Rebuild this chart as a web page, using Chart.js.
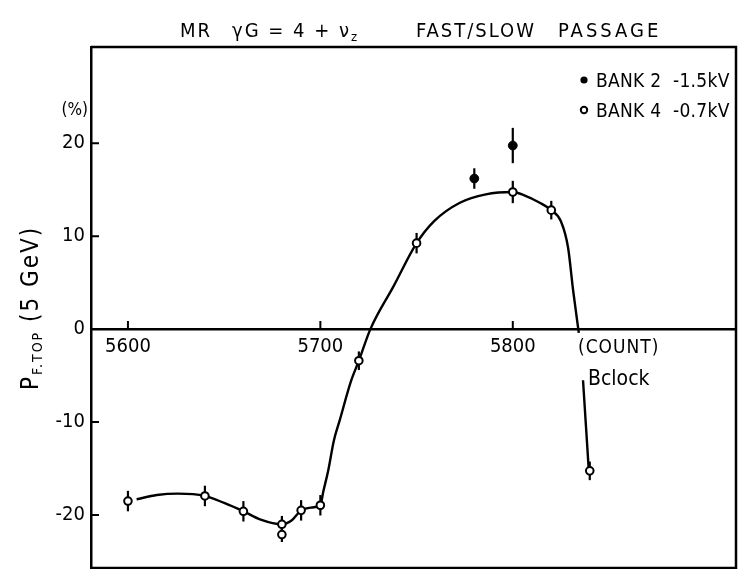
<!DOCTYPE html>
<html>
<head>
<meta charset="utf-8">
<script src="https://cdn.jsdelivr.net/npm/chart.js@4.4.1/dist/chart.umd.min.js"></script>
<style>
  html, body { margin: 0; padding: 0; background: #fff; overflow: hidden; }
  #wrap { width: 742px; height: 574px; position: relative; }
</style>
</head>
<body>
<div id="wrap"><canvas id="chart"></canvas></div>
<script>
// MR polarization vs B clock count, fast/slow passage

const FONT = '"DejaVu Sans Condensed", "Liberation Sans Narrow", "DejaVu Sans", sans-serif';

const xTicks = [5600, 5700, 5800];
const yTicks = [-20, -10, 0, 10, 20];

// BANK 4 -0.7kV (open circles)
const bank4X   = [5600, 5640, 5660, 5680, 5680, 5690, 5700, 5720, 5750, 5800, 5820, 5840];
const bank4Y   = [-18.5, -17.95, -19.6, -21.0, -22.1, -19.5, -18.95, -3.4, 9.25, 14.75, 12.8, -15.25];
const bank4Err = [1.1, 1.1, 1.1, 0.9, 0.8, 1.1, 1.1, 1.0, 1.1, 1.2, 1.0, 1.0];

// BANK 2 -1.5kV (filled)
const bank2X   = [5780, 5800];
const bank2Y   = [16.2, 19.75];
const bank2Err = [1.1, 1.9];

// hand drawn guide curve, null = break at the axis label
const curveX = [5604.5, 5615, 5626, 5640, 5650, 5660, 5669, 5680, 5685, 5690, 5695, 5700,
                5701.5, 5704, 5707, 5710, 5716, 5720, 5726, 5738, 5750, 5759, 5772.5, 5786,
                5800, 5806, 5814, 5820, 5825, 5828.7, 5831.4, 5834.3, 5835.5, 5836.5, 5839.5];
const curveY = [-18.3, -17.85, -17.7, -17.95, -18.7, -19.6, -20.5, -21.0, -20.6, -19.5, -19.2, -18.95,
                -17.5, -15.3, -12.0, -9.85, -5.55, -3.4, 0, 4.6, 9.25, 11.6, 13.6, 14.5,
                14.75, 14.4, 13.6, 12.8, 11.6, 8.8, 4.1, -0.4, null, -5.5, -15.2];

const pts = (xs, ys) => xs.map((v, i) => ({ x: v, y: ys[i] }));

const errorBars = {
    id: 'errorBars',
    beforeDatasetsDraw(chart) {
        const { ctx, scales: { x, y } } = chart;
        ctx.save();
        ctx.strokeStyle = '#000';
        ctx.lineWidth = 2.2;
        const draw = (xs, ys, es) => xs.forEach((v, i) => {
            const px = x.getPixelForValue(v);
            ctx.beginPath();
            ctx.moveTo(px, y.getPixelForValue(ys[i] + es[i]));
            ctx.lineTo(px, y.getPixelForValue(ys[i] - es[i]));
            ctx.stroke();
        });
        draw(bank4X, bank4Y, bank4Err);
        draw(bank2X, bank2Y, bank2Err);
        ctx.restore();
    }
};

const frame = {
    id: 'frame',
    afterDraw(chart) {
        const { ctx, chartArea: a, scales: { x, y } } = chart;
        ctx.save();
        ctx.strokeStyle = '#000';
        ctx.fillStyle = '#000';
        ctx.lineWidth = 2.5;

        // top / right / bottom of the box
        ctx.beginPath();
        ctx.moveTo(a.left, a.top);
        ctx.lineTo(a.right, a.top);
        ctx.lineTo(a.right, a.bottom);
        ctx.lineTo(a.left, a.bottom);
        ctx.stroke();

        // inward tick marks
        const y0 = y.getPixelForValue(0);
        ctx.lineWidth = 2;
        ctx.beginPath();
        xTicks.forEach(v => {
            const px = x.getPixelForValue(v);
            ctx.moveTo(px, y0);
            ctx.lineTo(px, y0 - 8);
        });
        yTicks.forEach(v => {
            const py = y.getPixelForValue(v);
            ctx.moveTo(a.left, py);
            ctx.lineTo(a.left + 8, py);
        });
        ctx.stroke();

        ctx.textBaseline = 'alphabetic';
        ctx.textAlign = 'left';
        const spacing = s => { try { ctx.letterSpacing = s; } catch (e) {} };

        // title
        spacing('2px');
        ctx.font = '20px ' + FONT;
        ctx.fillText('MR', 180, 37);
        ctx.fillText('\u03b3G = 4 + \u03bd', 232, 37);
        let w = ctx.measureText('\u03b3G = 4 + \u03bd').width;
        ctx.font = '13px ' + FONT;
        ctx.fillText('z', 232 + w, 41);
        ctx.font = '20px ' + FONT;
        ctx.fillText('FAST/SLOW', 416, 37);
        spacing('3px');
        ctx.fillText('PASSAGE', 558, 37);

        // legend
        spacing('0.3px');
        ctx.font = '19px ' + FONT;
        ctx.beginPath();
        ctx.arc(584, 80, 3.6, 0, Math.PI * 2);
        ctx.fill();
        ctx.fillText('BANK 2  -1.5kV', 596, 87);
        ctx.beginPath();
        ctx.lineWidth = 2;
        ctx.fillStyle = '#fff';
        ctx.arc(584, 110, 3.2, 0, Math.PI * 2);
        ctx.fill();
        ctx.stroke();
        ctx.fillStyle = '#000';
        ctx.fillText('BANK 4  -0.7kV', 596, 117);

        // unit and axis notes
        spacing('0px');
        ctx.font = '17px ' + FONT;
        ctx.textAlign = 'right';
        ctx.fillText('(%)', 88, 115);
        ctx.textAlign = 'left';
        spacing('1px');
        ctx.font = '19px ' + FONT;
        ctx.fillText('(COUNT)', 578, 353);
        spacing('0px');
        ctx.font = '21px ' + FONT;
        ctx.fillText('Bclock', 588, 385);

        // y axis title, rotated
        ctx.save();
        ctx.translate(38, 390);
        ctx.rotate(-Math.PI / 2);
        spacing('2px');
        ctx.font = '24px ' + FONT;
        ctx.fillText('P', 0, 0);
        let off = ctx.measureText('P').width;
        ctx.font = '14px ' + FONT;
        ctx.fillText('F.TOP', off, 4);
        off += ctx.measureText('F.TOP').width;
        ctx.font = '24px ' + FONT;
        ctx.fillText(' (5 GeV)', off, 0);
        ctx.restore();

        ctx.restore();
    }
};

new Chart(document.getElementById('chart'), {
    type: 'scatter',
    data: {
        datasets: [
            {
                type: 'line',
                data: pts(curveX, curveY),
                borderColor: '#000',
                borderWidth: 2.4,
                pointRadius: 0,
                cubicInterpolationMode: 'monotone',
                spanGaps: false,
                fill: false,
                order: 3
            },
            {
                label: 'BANK 4 -0.7kV',
                data: pts(bank4X, bank4Y),
                pointRadius: 3.8,
                pointBackgroundColor: '#fff',
                pointBorderColor: '#000',
                pointBorderWidth: 2,
                order: 2
            },
            {
                label: 'BANK 2 -1.5kV',
                data: pts(bank2X, bank2Y),
                pointRadius: 4.4,
                pointBackgroundColor: '#000',
                pointBorderColor: '#000',
                pointBorderWidth: 1,
                order: 1
            }
        ]
    },
    options: {
        responsive: true,
        maintainAspectRatio: false,
        animation: false,
        layout: { padding: { top: 47, right: 6, bottom: 2, left: 0 } },
        plugins: {
            legend: { display: false },
            tooltip: { enabled: false }
        },
        scales: {
            x: {
                type: 'linear',
                min: 5580.8,
                max: 5916,
                position: { y: 0 },
                afterBuildTicks: s => { s.ticks = xTicks.map(v => ({ value: v })); },
                afterFit: s => {
                    s.height = 0;
                    s.paddingLeft = s.paddingRight = s.paddingTop = s.paddingBottom = 0;
                },
                grid: { display: false, drawTicks: false },
                border: { display: true, color: '#000', width: 2.5 },
                ticks: {
                    color: '#000',
                    font: { family: FONT, size: 20 },
                    padding: 6,
                    maxRotation: 0,
                    callback: v => String(v)
                }
            },
            y: {
                type: 'linear',
                min: -25.7,
                max: 30.35,
                afterBuildTicks: s => { s.ticks = yTicks.map(v => ({ value: v })); },
                afterFit: s => {
                    s.width = 91;
                    s.paddingTop = s.paddingBottom = 0;
                },
                grid: { display: false, drawTicks: false },
                border: { display: true, color: '#000', width: 2.5 },
                ticks: { color: '#000', font: { family: FONT, size: 20 }, padding: 6 }
            }
        }
    },
    plugins: [errorBars, frame]
});
</script>
</body>
</html>
